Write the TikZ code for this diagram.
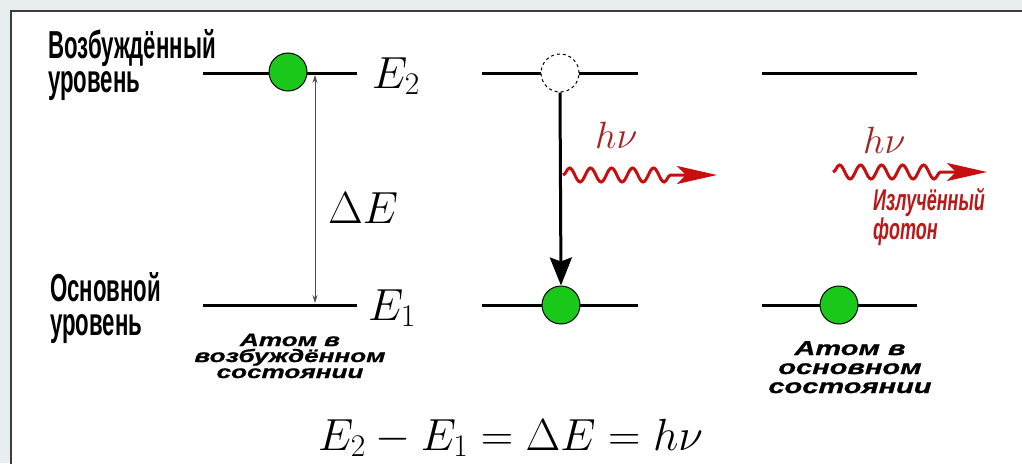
\RequirePackage{fix-cm}
\documentclass[tikz,border=0pt]{standalone}
\usepackage{fontspec}
\newfontfamily\lblfont[FakeStretch=0.57]{Liberation Sans}
\newfontfamily\atomfont[FakeStretch=1.45,FakeBold=1]{Liberation Sans}
\newfontfamily\photfont[FakeStretch=0.6]{Liberation Sans}
\usetikzlibrary{arrows.meta,decorations.pathmorphing}
\definecolor{bgc}{RGB}{232,237,240}
\definecolor{framec}{RGB}{60,60,60}
\definecolor{atomgreen}{RGB}{25,200,25}
\definecolor{wavered}{RGB}{200,15,15}
\definecolor{hnured}{RGB}{165,35,35}
\definecolor{labred}{RGB}{185,25,25}
\begin{document}
\begin{tikzpicture}[x=1pt,y=-1pt,
  level/.style={line width=3pt},
  atom/.style={circle,draw=black,line width=1pt,fill=atomgreen,minimum size=38pt,inner sep=0pt},
  hole/.style={circle,draw=black,dashed,line width=1pt,fill=white,minimum size=38pt,inner sep=0pt},
  lvllabel/.style={anchor=base west,inner sep=0pt,align=left,font=\lblfont\bfseries\fontsize{39}{34}\selectfont},
  atomlabel/.style={anchor=base,inner sep=0pt,align=center},
  mathlbl/.style={anchor=base west,inner sep=0pt,font=\fontsize{45}{50}\selectfont},
  hnu/.style={anchor=base west,inner sep=0pt,text=hnured,font=\fontsize{38}{44}\selectfont},
  wave/.style={draw=wavered,line width=3pt,decorate,
    decoration={snake,segment length=21pt,amplitude=7pt,post length=44pt},
    -{Stealth[length=40pt,width=18pt,inset=9pt]}},
  gap/.style={draw=black!70,line width=0.8pt,{Stealth[length=8pt,width=5pt]}-{Stealth[length=8pt,width=5pt]}},
  fall/.style={line width=3pt,-{Stealth[length=28pt,width=22pt,inset=4pt]}}
]
\useasboundingbox (0,0) rectangle (1022,463);
\clip (0,0) rectangle (1022,463);
\fill[bgc] (0,0) rectangle (1022,463);
\draw[framec,fill=white,line width=1.5pt] (11,11) rectangle (1040,480);

% levels
\coordinate (a2l) at (203,73); \coordinate (a2r) at (357,73);
\coordinate (a1l) at (203,305); \coordinate (a1r) at (357,305);
\coordinate (b2l) at (482,73); \coordinate (b2r) at (638,73);
\coordinate (b1l) at (482,305); \coordinate (b1r) at (638,305);
\coordinate (c2l) at (762,73); \coordinate (c2r) at (917,73);
\coordinate (c1l) at (762,305); \coordinate (c1r) at (917,305);
\draw[level] (a2l) -- (a2r); \draw[level] (a1l) -- (a1r);
\draw[level] (b2l) -- (b2r); \draw[level] (b1l) -- (b1r);
\draw[level] (c2l) -- (c2r); \draw[level] (c1l) -- (c1r);

% atoms
\node[atom] (atomA) at (288,72) {};
\node[hole] (holeB) at (560,73) {};
\node[atom] (atomB) at (561,305) {};
\node[atom] (atomC) at (839,305) {};

% energy gap
\coordinate (gtop) at (315,75);
\coordinate (gbot) at (315,303);
\draw[gap] (gbot) -- (gtop);

% transition
\draw[fall] (holeB.south) -- (atomB.north);

% photons
\coordinate (w1s) at (563,175); \coordinate (w1e) at (717,175);
\coordinate (w2s) at (833,172); \coordinate (w2e) at (987,172);
\draw[wave] (w1s) -- (w1e);
\draw[wave] (w2s) -- (w2e);
\node[hnu] (hnu1) at (595,148) {$h\nu$};
\node[hnu] (hnu2) at (863,153) {$h\nu$};

% labels (base anchor = baseline of last line)
\node[lvllabel] (exc) at (48,92) {Возбуждённый\\уровень};
\node[lvllabel] (gnd) at (50,335) {Основной\\уровень};
\node[mathlbl] (E2) at (372,88) {$E_2$};
\node[mathlbl] (E1) at (368,320) {$E_1$};
\node[mathlbl] (dE) at (328,223) {$\Delta E$};
\node[mathlbl] (eq) at (318,450) {$E_2-E_1=\Delta E=h\nu$};

\node[atomlabel,font=\atomfont\bfseries\itshape\fontsize{18}{16}\selectfont] (labA) at (290,378) {Атом в\\возбуждённом\\состоянии};
\node[atomlabel,font=\atomfont\bfseries\itshape\fontsize{20}{19}\selectfont] (labC) at (850,393) {Атом в\\основном\\состоянии};
\node[anchor=base west,inner sep=0pt,align=left,text=labred,font=\photfont\bfseries\itshape\fontsize{30}{24}\selectfont] (phot) at (873,239) {Излучённый\\фотон};
\end{tikzpicture}
\end{document}
